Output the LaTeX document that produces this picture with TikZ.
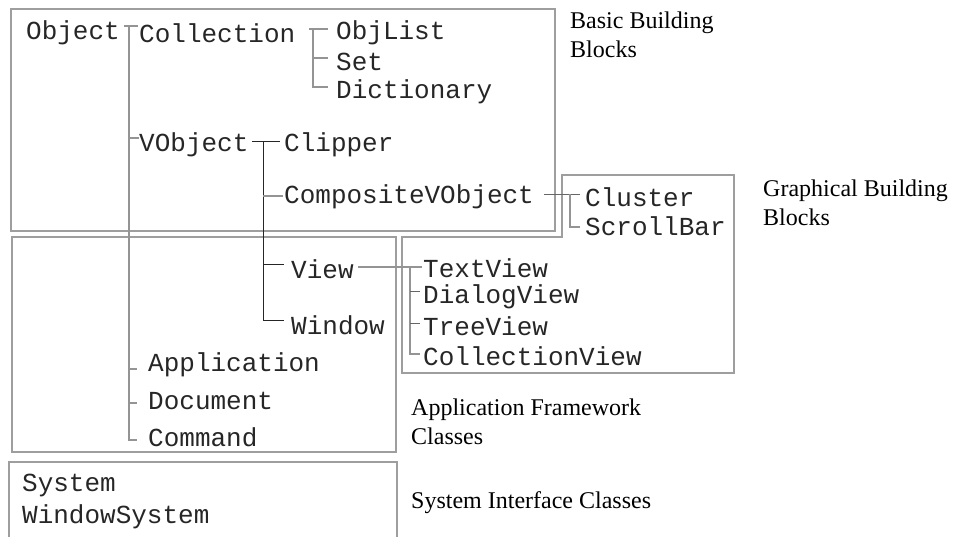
\documentclass[tikz,border=0pt]{standalone}
\usepackage{fontspec}
\setmainfont{Liberation Serif}
\newfontfamily\codefont{Liberation Mono}
\begin{document}
\begin{tikzpicture}[x=1pt,y=-1pt,
  cls/.style={anchor=west,inner sep=0pt,text=black!85,font=\codefont\fontsize{26}{28}\selectfont},
  lbl/.style={anchor=north west,inner sep=0pt,align=left,font=\fontsize{24}{28.5}\selectfont},
  boxline/.style={draw=black!38,line width=1.2pt},
  conn/.style={draw=black!42,line width=1.5pt},
  dconn/.style={draw=black!85,line width=0.9pt}]
\useasboundingbox (0,0) rectangle (954,536);
% boxes
\draw[boxline] (11,9) rectangle (555,231);
\draw[boxline] (12,237) rectangle (396,452);
\draw[boxline] (562,175) -- (734,175) -- (734,373) -- (402,373) -- (402,237) -- (562,237) -- cycle;
\draw[boxline] (9,462) rectangle (397,560);
% class names
\node[cls] (Object) at (26,33) {Object};
\node[cls] (Collection) at (139,33) {Collection};
\node[cls] (ObjList) at (336,33) {ObjList};
\node[cls] (Set) at (336,62) {Set};
\node[cls] (Dictionary) at (336,92) {Dictionary};
\node[cls] (VObject) at (139,145) {VObject};
\node[cls] (Clipper) at (284,145) {Clipper};
\node[cls] (CompositeVObject) at (284,197) {CompositeVObject};
\node[cls] (Cluster) at (585,197) {Cluster};
\node[cls] (ScrollBar) at (585,226) {ScrollBar};
\node[cls] (View) at (291,269) {View};
\node[cls] (Window) at (291,325) {Window};
\node[cls] (TextView) at (423,268) {TextView};
\node[cls] (DialogView) at (423,297) {DialogView};
\node[cls] (TreeView) at (423,326) {TreeView};
\node[cls] (CollectionView) at (423,356) {CollectionView};
\node[cls] (Application) at (148,365) {Application};
\node[cls] (Document) at (148,401) {Document};
\node[cls] (Command) at (148,437) {Command};
\node[cls] (System) at (22,485) {System};
\node[cls] (WindowSystem) at (22,517) {WindowSystem};
% labels
\node[lbl] (basic) at (570,12) {Basic Building\\Blocks};
\node[lbl] (graph) at (763,180) {Graphical Building\\Blocks};
\node[lbl] (appfw) at (411,399) {Application Framework\\Classes};
\node[lbl] (sysif) at (411,491) {System Interface Classes};
% Object tree
\coordinate (oA) at (124,26); \coordinate (oB) at (138,26);
\coordinate (oT) at (129,26); \coordinate (oE) at (129,440);
\draw[conn] (oA) -- (oB);
\draw[conn] (oT) -- (oE) -- (137,440);
\draw[conn] (129,138) -- (139,138);
\draw[conn] (129,369) -- (137,369);
\draw[conn] (129,403) -- (137,403);
% Collection tree
\coordinate (cA) at (309,29); \coordinate (cB) at (328,29);
\coordinate (cT) at (313,29); \coordinate (cE) at (313,87);
\draw[conn] (cA) -- (cB);
\draw[conn] (cT) -- (cE) -- (328,87);
\draw[conn] (313,58) -- (328,58);
% VObject tree
\coordinate (vA) at (252,141); \coordinate (vB) at (280,141);
\coordinate (vT) at (263,141); \coordinate (vE) at (263,320);
\draw[dconn] (vA) -- (vB);
\draw[dconn] (vT) -- (vE) -- (284,320);
\draw[conn] (263,196) -- (283,196);
\draw[dconn] (263,264) -- (284,264);
% CompositeVObject tree
\coordinate (gA) at (544,194); \coordinate (gB) at (580,194);
\coordinate (gT) at (570,194); \coordinate (gE) at (570,227);
\draw[dconn,draw=black!60] (gA) -- (gB);
\draw[conn,line width=1.2pt] (gT) -- (gE) -- (580,227);
% View tree
\coordinate (wA) at (358,267); \coordinate (wB) at (422,267);
\coordinate (wT) at (410,267); \coordinate (wE) at (410,354);
\draw[conn,line width=1.2pt] (wA) -- (wB);
\draw[conn,line width=1.2pt] (wT) -- (wE) -- (420,354);
\draw[dconn,draw=black!60] (410,291) -- (420,291);
\draw[dconn,draw=black!60] (410,323) -- (420,323);
\end{tikzpicture}
\end{document}
